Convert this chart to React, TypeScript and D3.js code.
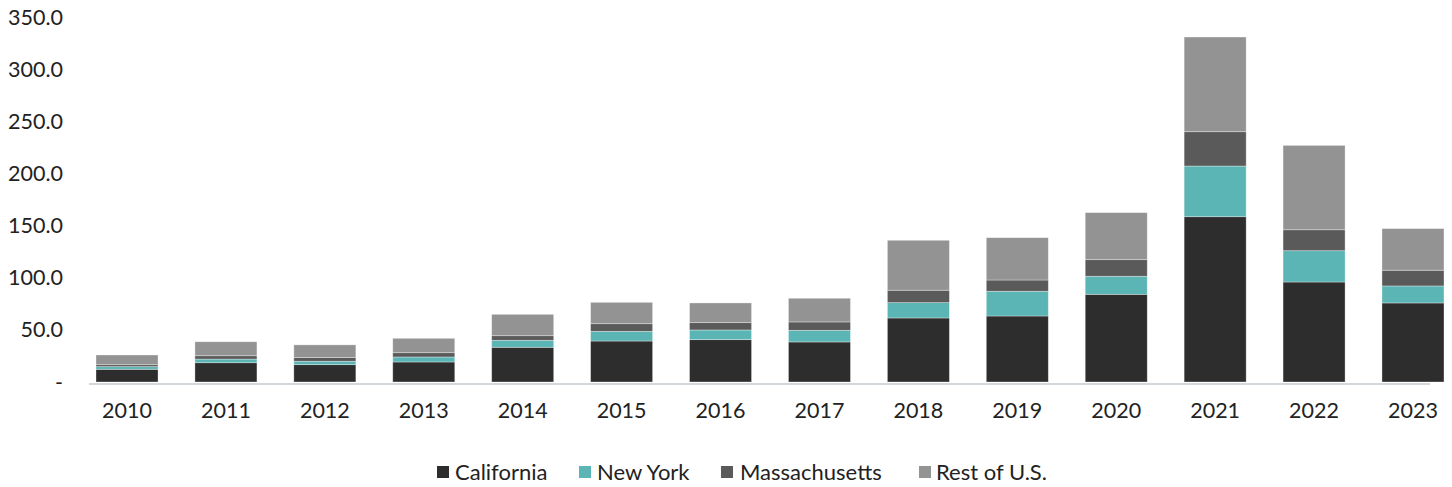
import React from "react";
import * as d3 from "d3";

const years = ["2010","2011","2012","2013","2014","2015","2016","2017","2018","2019","2020","2021","2022","2023"];
const california = [12.2, 18.5, 16.6, 19.2, 33.3, 39.3, 40.6, 38.4, 61.4, 63.3, 84.1, 158.5, 95.9, 75.8];
const newYork = [2.5, 3.5, 3.3, 4.8, 6.7, 9.3, 9.3, 11.2, 14.7, 23.7, 17.3, 48.6, 30.0, 16.3];
const massachusetts = [1.9, 3.2, 3.5, 4.1, 4.4, 7.3, 7.0, 8.0, 11.9, 10.8, 15.9, 32.9, 20.1, 15.1];
const restOfUS = [9.3, 13.4, 12.2, 13.8, 20.5, 20.5, 18.9, 22.7, 47.9, 40.6, 45.1, 90.8, 80.9, 39.9];
const seriesNames = ["California", "New York", "Massachusetts", "Rest of U.S."];
const seriesColors = ["#2d2d2d", "#5bb5b5", "#5a5a5a", "#939393"];
const yTicks = [0, 50, 100, 150, 200, 250, 300, 350];

const W = 1452, H = 487;
const FONT = "Lato, 'Noto Sans', sans-serif";

export default function App() {
  const seriesValues = [california, newYork, massachusetts, restOfUS];
  const rows = years.map((y, i) => {
    const r: any = { year: y };
    seriesNames.forEach((n, k) => (r[n] = seriesValues[k][i]));
    return r;
  });
  const stacked = d3.stack<any>().keys(seriesNames)(rows);

  const step = 98.9;
  const x = d3.scaleBand<string>()
    .domain(years)
    .range([127 - step / 2, 1413 + step / 2])
    .paddingInner(0.373)
    .paddingOuter(0.1865);
  const y = d3.scaleLinear().domain([0, 350]).range([382, 17]);

  const fmt = (v: number) => (v === 0 ? "-" : d3.format(".1f")(v));

  const legendItems = [
    { sq: 437, tx: 455 },
    { sq: 579, tx: 597 },
    { sq: 721, tx: 740 },
    { sq: 919, tx: 936 },
  ];

  return (
    <svg width={W} height={H} style={{ position: "absolute", left: 0, top: 0 }}>
      <rect width={W} height={H} fill="#fff" />
      {stacked.map((s, k) => (
        <g key={k} fill={seriesColors[k]}>
          {s.map((d, i) => (
            <rect
              key={i}
              x={x(years[i])}
              width={x.bandwidth()}
              y={y(d[1])}
              height={y(d[0]) - y(d[1])}
              stroke="#ffffff"
              strokeOpacity={0.45}
              strokeWidth={0.75}
            />
          ))}
        </g>
      ))}
      <line x1={89} x2={1430} y1={384} y2={384} stroke="#d3d8dc" strokeWidth={2} />
      {yTicks.map((t) => (
        <text
          key={t}
          x={63}
          y={y(t)}
          dy="0.35em"
          textAnchor="end"
          fontFamily={FONT}
          fontSize={21.5}
          fill="#222"
        >
          {fmt(t)}
        </text>
      ))}
      {years.map((yr) => (
        <text
          key={yr}
          x={(x(yr) as number) + x.bandwidth() / 2}
          y={410}
          dy="0.35em"
          textAnchor="middle"
          fontFamily={FONT}
          fontSize={21.5}
          fill="#222"
        >
          {yr}
        </text>
      ))}
      {seriesNames.map((n, k) => (
        <g key={n}>
          <rect x={legendItems[k].sq} y={466} width={12} height={12} fill={seriesColors[k]} />
          <text x={legendItems[k].tx} y={472} dy="0.35em" fontFamily={FONT} fontSize={22} fill="#222">
            {n}
          </text>
        </g>
      ))}
    </svg>
  );
}
